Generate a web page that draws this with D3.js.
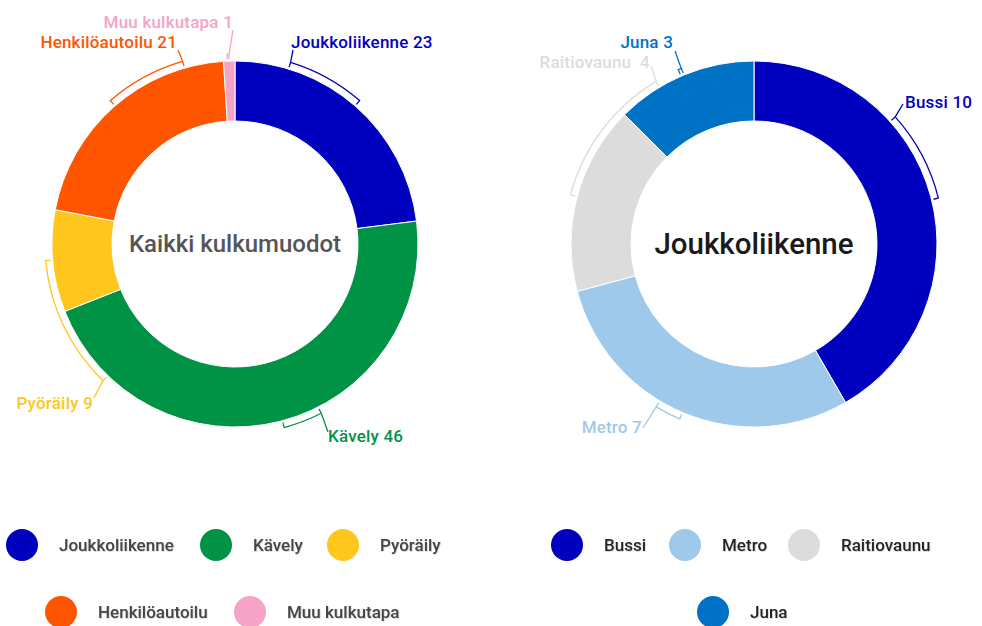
<!DOCTYPE html>
<html>
<head>
<meta charset="utf-8">
<script src="https://cdn.jsdelivr.net/npm/d3@7/dist/d3.min.js"></script>
<style>
  body { margin: 0; background: #fff; }
  svg { font-family: Roboto, "Noto Sans", sans-serif; }
</style>
</head>
<body>
<div id="chart"></div>
<script>
// data
const allModes = ["Joukkoliikenne", "Kävely", "Pyöräily", "Henkilöautoilu", "Muu kulkutapa"];
const allValues = [23, 46, 9, 21, 1];
const allColors = ["#0000bf", "#009245", "#ffc61e", "#ff5500", "#f5a3c7"];

const ptModes = ["Bussi", "Metro", "Raitiovaunu", "Juna"];
const ptValues = [10, 7, 4, 3];
const ptColors = ["#0000bf", "#9fc9eb", "#dcdcdc", "#0072c6"];

// label layout (bracket angles in degrees, text position, leader end)
const allLabels = [
  { a0: 17, a1: 41, lead: 0, tx: 291, ty: 48, anchor: "start", px: 293, py: 50, text: "Joukkoliikenne 23" },
  { a0: 153, a1: 165, lead: 0, tx: 328, ty: 442, anchor: "start", px: 328, py: 432, text: "Kävely 46" },
  { a0: 224, a1: 265, lead: 0, tx: 93, ty: 409, anchor: "end", px: 94, py: 398, text: "Pyöräily 9" },
  { a0: 319, a1: 344, lead: 1, tx: 177, ty: 48, anchor: "end", px: 178, py: 50, text: "Henkilöautoilu 21" },
  { a0: 357.6, a1: 358.2, lead: 1, tx: 233, ty: 28, anchor: "end", px: 233, py: 30, text: "Muu kulkutapa 1" }
];
const ptLabels = [
  { a0: 48, a1: 76, lead: 0, tx: 905, ty: 108, anchor: "start", px: 903, py: 104, text: "Bussi 10" },
  { a0: 203, a1: 211, lead: 1, tx: 642, ty: 433, anchor: "end", px: 643, py: 428, text: "Metro 7" },
  { a0: 285, a1: 329, lead: 1, tx: 650, ty: 68, anchor: "end", px: 651, py: 66, text: "Raitiovaunu  4" },
  { a0: 336.5, a1: 337.5, lead: 1, tx: 673, ty: 48, anchor: "end", px: 675, py: 51, text: "Juna 3" }
];

const W = 982, H = 626;
const outerR = 183, innerR = 123;

const svg = d3.select("#chart").append("svg")
  .attr("width", W).attr("height", H);

function donut(cx, cy, names, values, colors, labels, title, titleStyle) {
  const g = svg.append("g").attr("transform", "translate(" + cx + "," + cy + ")");
  const color = d3.scaleOrdinal().domain(names).range(colors);

  const pie = d3.pie().sort(null).value(d => d.value);
  const arc = d3.arc().innerRadius(innerR).outerRadius(outerR);
  const rows = names.map((n, i) => ({ name: n, value: values[i] }));
  const arcs = pie(rows);

  g.selectAll(".slice")
    .data(arcs)
    .enter().append("path")
    .attr("class", "slice")
    .attr("d", arc)
    .attr("fill", d => color(d.data.name))
    .attr("stroke", "#fff")
    .attr("stroke-width", 1);

  // brackets + leaders
  const rb = outerR + 7, rt = outerR + 2;
  const rad = a => a * Math.PI / 180;
  const pt = (a, r) => [r * Math.sin(rad(a)), -r * Math.cos(rad(a))];

  labels.forEach((l, i) => {
    const c = color(names[i]);
    const p = d3.path();
    const s0 = pt(l.a0, rt);
    p.moveTo(s0[0], s0[1]);
    const b0 = pt(l.a0, rb);
    p.lineTo(b0[0], b0[1]);
    p.arc(0, 0, rb, rad(l.a0) - Math.PI / 2, rad(l.a1) - Math.PI / 2);
    const s1 = pt(l.a1, rt);
    p.lineTo(s1[0], s1[1]);
    const lp = pt(l.lead ? l.a1 : l.a0, rb);
    p.moveTo(lp[0], lp[1]);
    p.lineTo(l.px - cx, l.py - cy);
    g.append("path")
      .attr("d", p.toString())
      .attr("fill", "none")
      .attr("stroke", c)
      .attr("stroke-width", 1.3);

    svg.append("text")
      .attr("x", l.tx).attr("y", l.ty)
      .attr("text-anchor", l.anchor)
      .attr("font-size", 17)
      .attr("font-weight", 500)
      .attr("letter-spacing", 0.2)
      .attr("fill", c)
      .attr("xml:space", "preserve")
      .style("white-space", "pre")
      .text(l.text);
  });

  g.append("text")
    .attr("text-anchor", "middle")
    .attr("dy", "0.35em")
    .attr("font-size", titleStyle.size)
    .attr("font-weight", titleStyle.weight)
    .attr("fill", titleStyle.fill)
    .text(title);

  return color;
}

const c1 = donut(235, 244, allModes, allValues, allColors, allLabels, "Kaikki kulkumuodot",
  { size: 24, weight: 500, fill: "#555" });
const c2 = donut(754, 244, ptModes, ptValues, ptColors, ptLabels, "Joukkoliikenne",
  { size: 29.5, weight: 500, fill: "#1a1a1a" });

// legends
function legend(items, color, rows, textFill) {
  items.forEach((name, i) => {
    const pos = rows[i];
    svg.append("circle")
      .attr("cx", pos[0]).attr("cy", pos[1]).attr("r", 16)
      .attr("fill", color(name));
    svg.append("text")
      .attr("x", pos[0] + 37).attr("y", pos[1])
      .attr("dy", "0.35em")
      .attr("font-size", 17)
      .attr("font-weight", 500)
      .attr("fill", textFill)
      .attr("filter", "url(#soft)")
      .text(name);
  });
}

const defs = svg.append("defs");
const f = defs.append("filter").attr("id", "soft");
f.append("feDropShadow").attr("dx", 0.6).attr("dy", 0.6).attr("stdDeviation", 0.6)
  .attr("flood-color", "#999").attr("flood-opacity", 0.6);

legend(allModes, c1, [[22, 545], [216, 545], [343, 545], [61, 612], [250, 612]], "#444");
legend(ptModes, c2, [[567, 545], [685, 545], [804, 545], [713, 612]], "#222");
</script>
</body>
</html>
